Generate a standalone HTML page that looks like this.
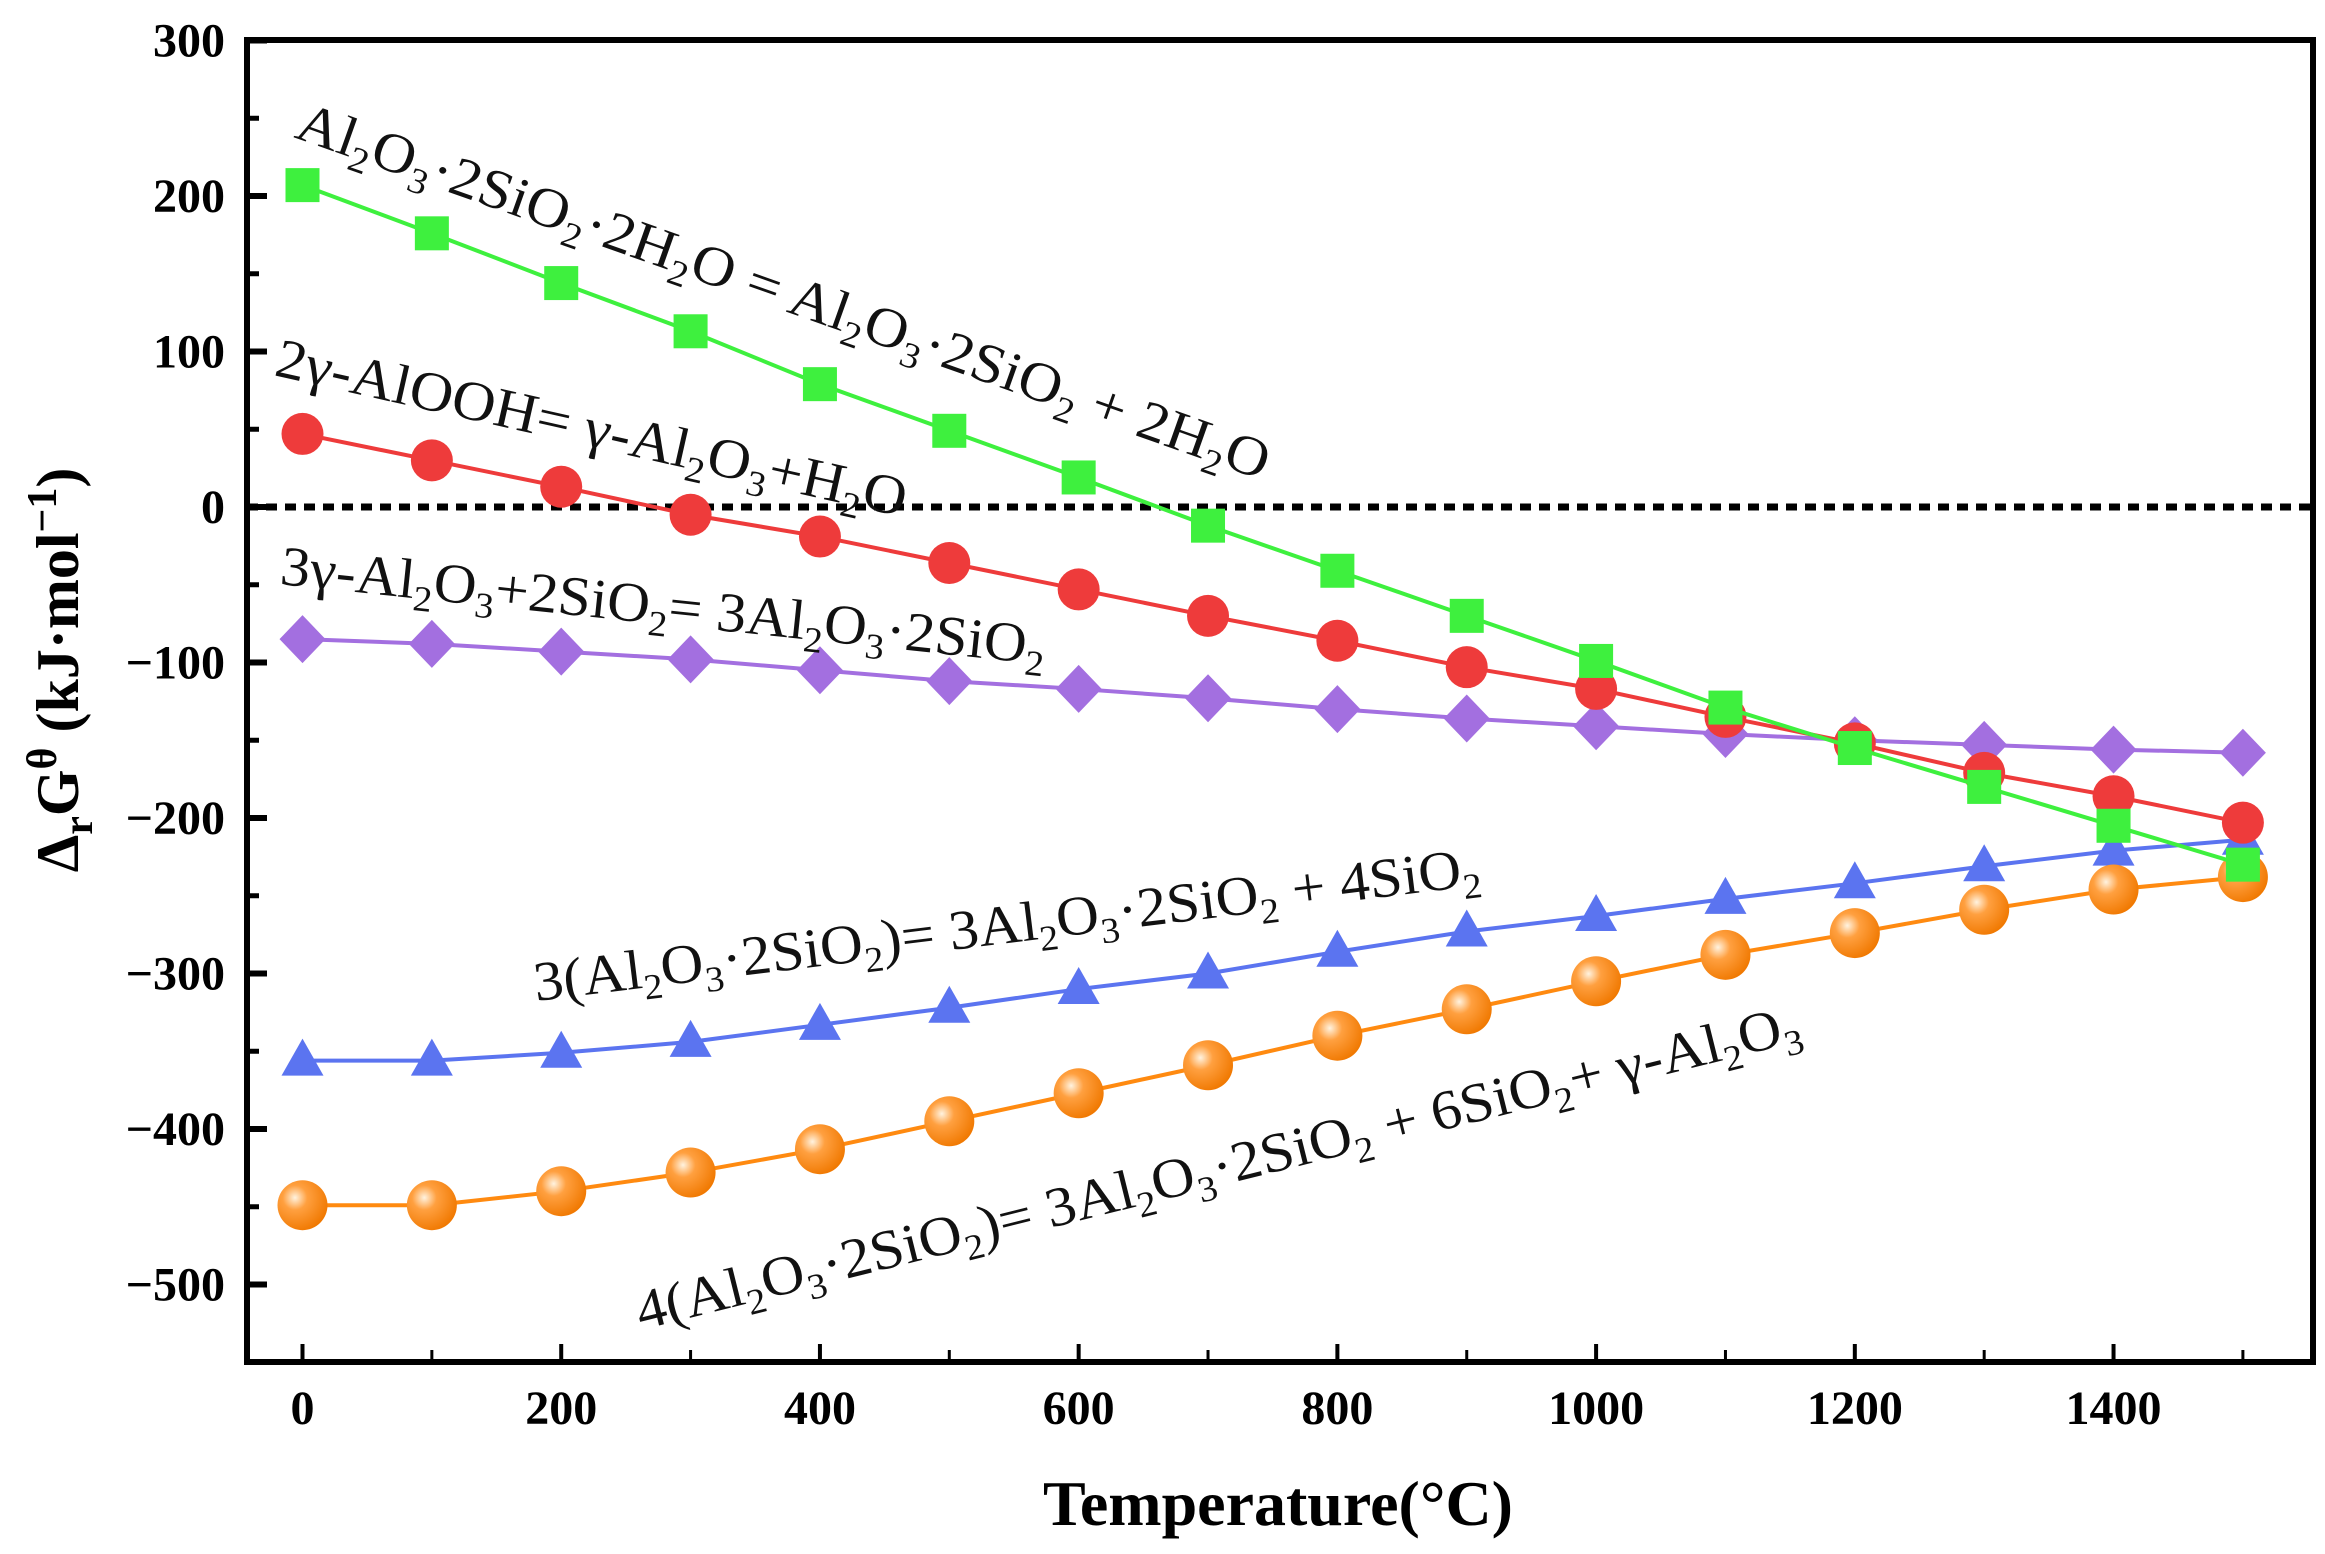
<!DOCTYPE html>
<html><head><meta charset="utf-8"><style>
html,body{margin:0;padding:0;background:#fff;}
svg{display:block;font-family:"Liberation Serif",serif;}
</style></head><body>
<svg id="chart" width="2325" height="1554" viewBox="0 0 2325 1554" xmlns="http://www.w3.org/2000/svg">
<defs>
<radialGradient id="sph" cx="0.35" cy="0.35" r="0.7">
<stop offset="0" stop-color="#fff3e0"/><stop offset="0.35" stop-color="#ffa040"/><stop offset="1" stop-color="#f07800"/>
</radialGradient>
</defs>
<g id="axes"></g>
<g id="series"></g>
<g id="labels" font-size="56" fill="#111" font-family="Liberation Serif, serif">
<text transform="translate(293,137) rotate(19.5)" textLength="1028" lengthAdjust="spacingAndGlyphs">Al<tspan dy="12" font-size="36">2</tspan><tspan dy="-12">O</tspan><tspan dy="12" font-size="36">3</tspan><tspan dy="-12">·2SiO</tspan><tspan dy="12" font-size="36">2</tspan><tspan dy="-12">·2H</tspan><tspan dy="12" font-size="36">2</tspan><tspan dy="-12">O = Al</tspan><tspan dy="12" font-size="36">2</tspan><tspan dy="-12">O</tspan><tspan dy="12" font-size="36">3</tspan><tspan dy="-12">·2SiO</tspan><tspan dy="12" font-size="36">2</tspan><tspan dy="-12"> + 2H</tspan><tspan dy="12" font-size="36">2</tspan><tspan dy="-12">O</tspan></text>
<text transform="translate(273,375) rotate(12.7)" textLength="645" lengthAdjust="spacingAndGlyphs">2γ-AlOOH= γ-Al<tspan dy="12" font-size="36">2</tspan><tspan dy="-12">O</tspan><tspan dy="12" font-size="36">3</tspan><tspan dy="-12">+H</tspan><tspan dy="12" font-size="36">2</tspan><tspan dy="-12">O</tspan></text>
<text transform="translate(279,584) rotate(6)" textLength="769" lengthAdjust="spacingAndGlyphs">3γ-Al<tspan dy="12" font-size="36">2</tspan><tspan dy="-12">O</tspan><tspan dy="12" font-size="36">3</tspan><tspan dy="-12">+2SiO</tspan><tspan dy="12" font-size="36">2</tspan><tspan dy="-12">= 3Al</tspan><tspan dy="12" font-size="36">2</tspan><tspan dy="-12">O</tspan><tspan dy="12" font-size="36">3</tspan><tspan dy="-12">·2SiO</tspan><tspan dy="12" font-size="36">2</tspan></text>
<text transform="translate(536,1001) rotate(-7)" textLength="953" lengthAdjust="spacingAndGlyphs">3(Al<tspan dy="12" font-size="36">2</tspan><tspan dy="-12">O</tspan><tspan dy="12" font-size="36">3</tspan><tspan dy="-12">·2SiO</tspan><tspan dy="12" font-size="36">2</tspan><tspan dy="-12">)= 3Al</tspan><tspan dy="12" font-size="36">2</tspan><tspan dy="-12">O</tspan><tspan dy="12" font-size="36">3</tspan><tspan dy="-12">·2SiO</tspan><tspan dy="12" font-size="36">2</tspan><tspan dy="-12"> + 4SiO</tspan><tspan dy="12" font-size="36">2</tspan></text>
<text transform="translate(641,1330) rotate(-14)" textLength="1198" lengthAdjust="spacingAndGlyphs">4(Al<tspan dy="12" font-size="36">2</tspan><tspan dy="-12">O</tspan><tspan dy="12" font-size="36">3</tspan><tspan dy="-12">·2SiO</tspan><tspan dy="12" font-size="36">2</tspan><tspan dy="-12">)= 3Al</tspan><tspan dy="12" font-size="36">2</tspan><tspan dy="-12">O</tspan><tspan dy="12" font-size="36">3</tspan><tspan dy="-12">·2SiO</tspan><tspan dy="12" font-size="36">2</tspan><tspan dy="-12"> + 6SiO</tspan><tspan dy="12" font-size="36">2</tspan><tspan dy="-12">+ γ-Al</tspan><tspan dy="12" font-size="36">2</tspan><tspan dy="-12">O</tspan><tspan dy="12" font-size="36">3</tspan></text>
</g>
<text x="1278" y="1525" text-anchor="middle" font-size="64" font-weight="bold">Temperature(°C)</text>
<text transform="translate(78,670) rotate(-90)" text-anchor="middle" font-size="60" font-weight="bold">Δ<tspan dy="14" font-size="42">r</tspan><tspan dy="-14">G</tspan><tspan dy="-22" font-size="42">θ</tspan><tspan dy="22"> (kJ·mol</tspan><tspan dy="-22" font-size="42">−1</tspan><tspan dy="22">)</tspan></text>
</svg>
<script>
const temps = [0,100,200,300,400,500,600,700,800,900,1000,1100,1200,1300,1400,1500];
const kaolinite = [207,176,144,113,79,49,19,-12,-41,-70,-99,-129,-155,-180,-205,-230];
const boehmite = [47,30,13,-5,-19,-36,-53,-70,-86,-103,-117,-135,-152,-171,-186,-203];
const mullite = [-85,-88,-93,-98,-105,-112,-117,-123,-130,-136,-141,-146,-150,-153,-156,-158];
const meta3 = [-356,-356,-351,-344,-333,-322,-310,-300,-286,-273,-263,-252,-242,-231,-221,-214];
const meta4 = [-449,-449,-440,-428,-413,-395,-377,-359,-340,-323,-305,-288,-274,-259,-246,-238];
const yTicks = [300,200,100,0,-100,-200,-300,-400,-500];
const xTicks = [0,200,400,600,800,1000,1200,1400];

const NS="http://www.w3.org/2000/svg";
const L=247,R=2313,T=40,B=1362;
const X=v=>302.5+v*1.2936;
const Y=v=>507-v*1.555;
function mk(tag,attrs,parent){const e=document.createElementNS(NS,tag);for(const k in attrs)e.setAttribute(k,attrs[k]);parent.appendChild(e);return e;}
const ax=document.getElementById('axes');
const fr=mk('rect',{x:L,y:T,width:R-L,height:B-T,fill:'none',stroke:'#000','stroke-width':6},ax);


for(let v=-550;v<=300;v+=50){
  const major=v%100===0;
  const t=mk('line',{x1:L,x2:L+(major?20:12),y1:Y(v),y2:Y(v),stroke:'#000','stroke-width':major?6:5},ax);
  
  
}
yTicks.forEach(v=>{
  const t=mk('text',{x:L-22,y:Y(v)+16,'text-anchor':'end','font-size':48,'font-weight':'bold'},ax);
  t.textContent=v<0?'−'+(-v):String(v);
  
  
});
for(let v=0;v<=1500;v+=100){
  const major=v%200===0;
  const t=mk('line',{x1:X(v),x2:X(v),y1:B,y2:B-(major?18:12),stroke:'#000','stroke-width':major?4:3},ax);
  
  
}
xTicks.forEach(v=>{
  const t=mk('text',{x:X(v),y:B+62,'text-anchor':'middle','font-size':48,'font-weight':'bold'},ax);
  t.textContent=String(v);
  
  
});
const z=mk('line',{x1:L,x2:R,y1:Y(0),y2:Y(0),stroke:'#000','stroke-width':7,'stroke-dasharray':'11 8'},ax);



const sg=document.getElementById('series');
function series(vals,color,name,marker){
  const g=mk('g',{},sg);
  
  
  const pts=vals.map((v,i)=>X(temps[i])+','+Y(v)).join(' ');
  mk('polyline',{points:pts,fill:'none',stroke:color,'stroke-width':4},g);
  vals.forEach((v,i)=>{
    const x=X(temps[i]),y=Y(v);let m;
    if(marker==='sq')m=mk('rect',{x:x-17,y:y-17,width:34,height:34,fill:color},g);
    else if(marker==='ci')m=mk('circle',{cx:x,cy:y,r:21,fill:color},g);
    else if(marker==='di')m=mk('polygon',{points:`${x},${y-24} ${x+23},${y} ${x},${y+24} ${x-23},${y}`,fill:color},g);
    else if(marker==='tr')m=mk('polygon',{points:`${x},${y-22} ${x+21},${y+15} ${x-21},${y+15}`,fill:color},g);
    else m=mk('circle',{cx:x,cy:y,r:25,fill:'url(#sph)'},g);
    
    
  });
}
series(mullite,'#a36fe0','series-mullite','di');
series(meta3,'#5b74f0','series-metakaolin-3','tr');
series(meta4,'#ff8a10','series-metakaolin-4','sp');
series(boehmite,'#ee3b3b','series-boehmite','ci');
series(kaolinite,'#3ef03e','series-kaolinite','sq');
</script>
</body></html>
